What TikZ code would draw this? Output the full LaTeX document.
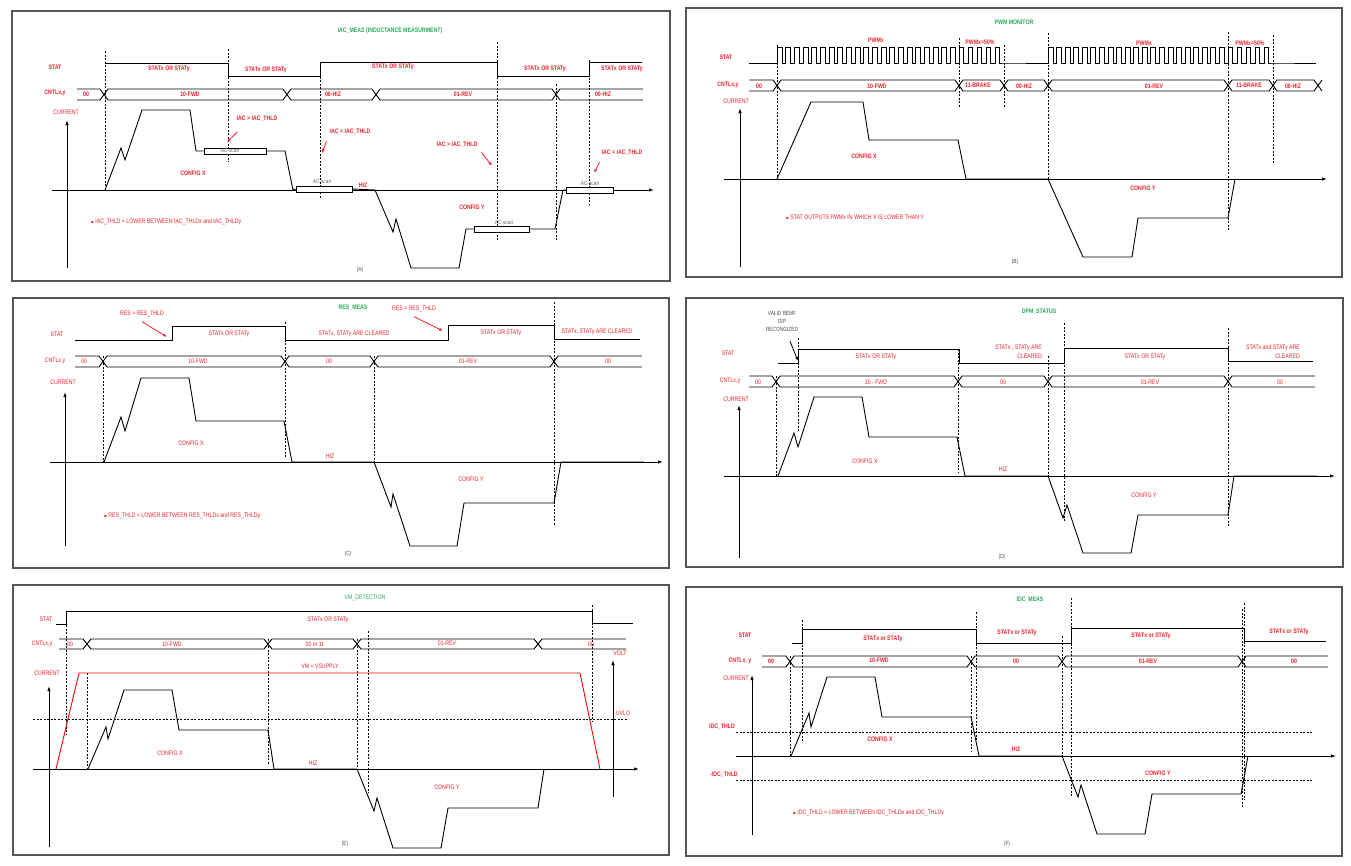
\documentclass[tikz,border=0pt]{standalone}
\usepackage{fontspec}
\setmainfont{Liberation Sans}[FakeStretch=0.8]
\newfontfamily\symfont{DejaVu Sans}
\usetikzlibrary{arrows.meta}
\definecolor{lblred}{RGB}{238,32,40}
\definecolor{ttlgreen}{RGB}{40,170,90}
\definecolor{framegray}{RGB}{85,85,85}

\begin{document}
\begin{tikzpicture}[x=1pt,y=-1pt,
                lbl/.style={text=lblred,font=\fontsize{6.5}{9}\selectfont\bfseries,inner sep=0pt},
                lbln/.style={text=lblred,font=\fontsize{6.5}{9}\selectfont,inner sep=0pt},
                ttl/.style={text=ttlgreen,font=\fontsize{6.5}{8}\selectfont\bfseries,inner sep=0pt},
                capt/.style={text=black!70,font=\fontsize{6}{7}\selectfont,inner sep=0pt},
                scantxt/.style={text=black!60,font=\fontsize{6}{7}\selectfont,inner sep=0pt},
                scanbox/.style={draw,line width=0.8pt,fill=white,minimum height=6pt,inner sep=0pt},
                frame/.style={draw=framegray,line width=1.2pt},
                sig/.style={line width=0.9pt},
                guide/.style={dash pattern=on 2pt off 1.5pt,line width=0.6pt},
                axis/.style={line width=0.9pt,-{Latex[length=5pt,width=3.5pt]}},
                redarrow/.style={draw=lblred,line width=0.8pt,-{Latex[length=4pt,width=3pt]}}]

\useasboundingbox (0,0) rectangle (1351,865);

% A
\draw[frame] (12,11) rectangle (670,281);
\node[ttl] (TTLA) at (390,31) {IAC\_MEAS (INDUCTANCE MEASURMENT)};
\node[lbl] (STATA) at (55,67) {STAT};
\node[lbl] (CNTLA) at (55,93) {CNTLx,y};
\node[lbln] (CURA) at (66,112) {CURRENT};

\draw[guide] (105,51) -- (105,190);
\draw[guide] (228,49) -- (228,162);
\draw[guide] (320,73) -- (320,198);
\draw[guide] (497,42) -- (497,240);
\draw[guide] (556,84) -- (556,241);
\draw[guide] (589,60) -- (589,204);

\draw[sig] (105,63) -- (228,63) -- (228,76) -- (320,76) -- (320,62) -- (497,62) -- (497,76) -- (589,76) -- (589,62) -- (642,62);
\node[lbl] (SA1) at (169,69) {STATx OR STATy};
\node[lbl] (SA2) at (266,70) {STATx OR STATy};
\node[lbl] (SA3) at (393,67) {STATx OR STATy};
\node[lbl] (SA4) at (545,69) {STATx OR STATy};
\node[lbl] (SA5) at (622,69) {STATx OR STATy};

\draw[sig] (77,89) -- (100,89) -- (108,100) -- (283,100) -- (291,89) -- (372,89) -- (380,100) -- (552,100) -- (560,89) -- (643,89);
\draw[sig] (77,100) -- (100,100) -- (108,89) -- (283,89) -- (291,100) -- (372,100) -- (380,89) -- (552,89) -- (560,100) -- (643,100);
\node[lbl] (CA1) at (86,94) {00};
\node[lbl] (CA2) at (190,94) {10-FWD};
\node[lbl] (CA3) at (333,94) {00-HIZ};
\node[lbl] (CA4) at (463,94) {01-REV};
\node[lbl] (CA5) at (603,94) {00-HIZ};

\draw[axis] (67,268) -- (67,120);
\draw[axis] (52,190) -- (654,190);

\node[scanbox,minimum width=62pt] (SCANA1) at (235,151) {};
\node[scanbox,minimum width=56pt] (SCANA2) at (324,189) {};
\node[scanbox,minimum width=55pt] (SCANA3) at (502,229) {};
\node[scanbox,minimum width=47pt] (SCANA4) at (590,190) {};
\node[scantxt] (SCTA1) at (230,150) {AC-scan};
\node[scantxt] (SCTA2) at (322,181) {AC-scan};
\node[scantxt] (SCTA3) at (504,222) {AC-scan};
\node[scantxt] (SCTA4) at (590,183) {AC-scan};

\draw[sig] (105,190) -- (121,148) -- (125,160) -- (142,110) -- (190,110) -- (196,151) -- (SCANA1.west);
\draw[sig] (SCANA1.east) -- (285,151) -- (293,190) -- (SCANA2.west);
\draw[sig] (SCANA2.east) -- (375,190) -- (393,232) -- (396,219) -- (411,268) -- (459,268) -- (466,229) -- (SCANA3.west);
\draw[sig] (SCANA3.east) -- (555,229) -- (563,190) -- (SCANA4.west);

\node[lbl] (THA1) at (257,119) {IAC > IAC\_THLD};
\node[lbl] (THA2) at (350,132) {IAC < IAC\_THLD};
\node[lbl] (THA3) at (457,145) {IAC > IAC\_THLD};
\node[lbl] (THA4) at (622,153) {IAC < IAC\_THLD};
\coordinate (TIPA1) at (227,142);
\coordinate (TIPA2) at (322,153);
\coordinate (TIPA3) at (492,166);
\coordinate (TIPA4) at (594,173);
\draw[redarrow] ([xshift=1pt,yshift=-10pt]THA1.south west) -- (TIPA1);
\draw[redarrow] ([xshift=-3pt,yshift=-6.5pt]THA2.south west) -- (TIPA2);
\draw[redarrow] ([xshift=4pt,yshift=-4.5pt]THA3.south east) -- (TIPA3);
\draw[redarrow] ([xshift=-2pt,yshift=-6.5pt]THA4.south west) -- (TIPA4);

\node[lbl] (HIZA) at (363,185) {HIZ};
\node[lbl] (CFXA) at (193,173) {CONFIG X};
\node[lbl] (CFYA) at (472,207) {CONFIG Y};
\node[lbln,anchor=west] (NOTEA) at (91,222) {{\symfont\fontsize{4}{4}\selectfont ▪} IAC\_THLD = LOWER BETWEEN IAC\_THLDx and IAC\_THLDy};
\node[capt] (CAPA) at (360,270) {(A)};

% B
\draw[frame] (686,8) rectangle (1342,277);
\node[ttl] (TTLB) at (1014,22) {PWM MONITOR};
\node[lbl] (STATB) at (726,57) {STAT};
\node[lbl] (CNTLB) at (728,85) {CNTLx,y};
\node[lbln] (CURB) at (736,101) {CURRENT};

\draw[guide] (777,45) -- (777,180);
\draw[guide] (959,38) -- (959,107);
\draw[guide] (1004,45) -- (1004,107);
\draw[guide] (1048,33) -- (1048,179);
\draw[guide] (1228,32) -- (1228,230);
\draw[guide] (1273,35) -- (1273,164);

\draw[sig] (749,63) -- (777,63)
  \foreach \i in {1,...,21}{ -- ++(0,-16) -- ++(5,0) -- ++(0,16) -- ++(3.67,0)}
  \foreach \i in {1,...,5}{ -- ++(0,-16) -- ++(4.5,0) -- ++(0,16) -- ++(4.5,0)}
  -- (1048,63)
  \foreach \i in {1,...,21}{ -- ++(0,-16) -- ++(5,0) -- ++(0,16) -- ++(3.57,0)}
  \foreach \i in {1,...,5}{ -- ++(0,-16) -- ++(4.5,0) -- ++(0,16) -- ++(4.5,0)}
  -- (1316,63);
\node[lbl] (PWB1) at (876,40) {PWMx};
\node[lbl] (PWB2) at (980,42) {PWMx=50\%};
\node[lbl] (PWB3) at (1144,43) {PWMx};
\node[lbl] (PWB4) at (1250,43) {PWMx=50\%};

\draw[sig] (749,80) -- (773,80) -- (781,91) -- (955,91) -- (963,80) -- (1000,80) -- (1008,91) -- (1044,91) -- (1052,80) -- (1224,80) -- (1232,91) -- (1269,91) -- (1277,80) -- (1314,80) -- (1322,91);
\draw[sig] (749,91) -- (773,91) -- (781,80) -- (955,80) -- (963,91) -- (1000,91) -- (1008,80) -- (1044,80) -- (1052,91) -- (1224,91) -- (1232,80) -- (1269,80) -- (1277,91) -- (1314,91) -- (1322,80);
\node[lbl] (CB1) at (759,86) {00};
\node[lbl] (CB2) at (877,86) {10-FWD};
\node[lbl] (CB3) at (978,85) {11-BRAKE};
\node[lbl] (CB4) at (1024,86) {00-HIZ};
\node[lbl] (CB5) at (1154,86) {01-REV};
\node[lbl] (CB6) at (1249,85) {11-BRAKE};
\node[lbl] (CB7) at (1293,86) {00-HIZ};

\draw[axis] (740,267) -- (740,108);
\draw[axis] (724,179) -- (1327,179);
\draw[sig] (777,179) -- (811,102) -- (863,102) -- (869,140) -- (958,140) -- (966,179) -- (1048,179) -- (1083,257) -- (1132,257) -- (1138,218) -- (1228,218) -- (1235,179);

\node[lbl] (CFXB) at (864,156) {CONFIG X};
\node[lbl] (CFYB) at (1143,188) {CONFIG Y};
\node[lbln,anchor=west] (NOTEB) at (786,217) {{\symfont\fontsize{4}{4}\selectfont ▪} STAT OUTPUTS PWMx IN WHICH X IS LOWER THAN Y};
\node[capt] (CAPB) at (1015,262) {(B)};

% C
\draw[frame] (13,298) rectangle (669,568);
\node[ttl] (TTLC) at (353,308) {RES\_MEAS};
\node[lbln] (STATC) at (57,334) {STAT};
\node[lbln] (CNTLC) at (55,361) {CNTLx,y};
\node[lbln] (CURC) at (63,382) {CURRENT};

\draw[guide] (103,356) -- (103,462);
\draw[guide] (285,322) -- (285,458);
\draw[guide] (374,356) -- (374,462);
\draw[guide] (554,302) -- (554,525);

\draw[sig] (75,340) -- (172,340) -- (172,326) -- (285,326) -- (285,340) -- (448,340) -- (448,325) -- (554,325) -- (554,339) -- (640,339);
\node[lbln] (SC1) at (229,334) {STATx OR STATy};
\node[lbln] (SC2) at (354,334) {STATx, STATy ARE CLEARED};
\node[lbln] (SC3) at (501,333) {STATx OR STATy};
\node[lbln] (SC4) at (597,332) {STATx, STATy ARE CLEARED};

\node[lbln] (THC1) at (142,314) {RES > RES\_THLD};
\node[lbln] (THC2) at (414,309) {RES > RES\_THLD};
\coordinate (TIPC1) at (167,337);
\coordinate (TIPC2) at (443,331);
\draw[redarrow] ([yshift=-4.5pt]THC1.south) -- (TIPC1);
\draw[redarrow] ([yshift=-4.5pt]THC2.south) -- (TIPC2);

\draw[sig] (75,356) -- (99,356) -- (107,367) -- (281,367) -- (289,356) -- (370,356) -- (378,367) -- (550,367) -- (558,356) -- (642,356);
\draw[sig] (75,367) -- (99,367) -- (107,356) -- (281,356) -- (289,367) -- (370,367) -- (378,356) -- (550,356) -- (558,367) -- (642,367);
\node[lbln] (CC1) at (84,361) {00};
\node[lbln] (CC2) at (198,361) {10-FWD};
\node[lbln] (CC3) at (329,361) {00};
\node[lbln] (CC4) at (468,361) {01-REV};
\node[lbln] (CC5) at (608,361) {00};

\draw[axis] (65,546) -- (65,392);
\draw[axis] (50,462) -- (663,462);
\draw[sig] (104,462) -- (121,417) -- (125,431) -- (141,378) -- (189,378) -- (196,421) -- (284,421) -- (292,462) -- (374,462) -- (391,507) -- (393,494) -- (410,546) -- (457,546) -- (464,503) -- (554,503) -- (561,462) -- (644,462);

\node[lbln] (HIZC) at (330,456) {HIZ};
\node[lbln] (CFXC) at (191,443) {CONFIG X};
\node[lbln] (CFYC) at (471,479) {CONFIG Y};
\node[lbln,anchor=west] (NOTEC) at (104,516) {{\symfont\fontsize{4}{4}\selectfont ▪} RES\_THLD = LOWER BETWEEN RES\_THLDx and RES\_THLDy};
\node[capt] (CAPC) at (348,554) {(C)};

% D
\draw[frame] (686,298) rectangle (1343,567);
\node[ttl] (TTLD) at (1039,312) {DPM\_STATUS};
\node[capt,align=center,font=\fontsize{6}{8}\selectfont] (BEMF) at (782,321) {VALID BEMF\\DIP\\RECONGIZED};
\coordinate (TIPD) at (798,361);
\draw[line width=0.8pt,-{Latex[length=4pt,width=3pt]}] ([xshift=8pt,yshift=-10pt]BEMF.south) -- (TIPD);
\node[lbln] (STATD) at (728,353) {STAT};
\node[lbln] (CNTLD) at (730,381) {CNTLx,y};
\node[lbln] (CURD) at (736,399) {CURRENT};

\draw[guide] (776,376) -- (776,476);
\draw[guide] (798,338) -- (798,432);
\draw[guide] (958,349) -- (958,472);
\draw[guide] (1048,356) -- (1048,476);
\draw[guide] (1064,323) -- (1064,521);
\draw[guide] (1228,328) -- (1228,527);

\draw[sig] (778,363) -- (798,363) -- (798,349) -- (959,349) -- (959,363) -- (1064,363) -- (1064,348) -- (1228,348) -- (1228,361) -- (1313,361);
\node[lbln] (SD1) at (876,357) {STATx OR STATy};
\node[lbln,align=right,anchor=east] (SD2) at (1042,352) {STATx , STATy ARE\\CLEARED};
\node[lbln] (SD3) at (1145,357) {STATx OR STATy};
\node[lbln,align=right,anchor=east] (SD4) at (1300,352) {STATx and STATy ARE\\CLEARED};

\draw[sig] (749,376) -- (772,376) -- (780,387) -- (954,387) -- (962,376) -- (1044,376) -- (1052,387) -- (1224,387) -- (1232,376) -- (1315,376);
\draw[sig] (749,387) -- (772,387) -- (780,376) -- (954,376) -- (962,387) -- (1044,387) -- (1052,376) -- (1224,376) -- (1232,387) -- (1315,387);
\node[lbln] (CD1) at (758,382) {00};
\node[lbln] (CD2) at (876,382) {10 - FWD};
\node[lbln] (CD3) at (1003,382) {00};
\node[lbln] (CD4) at (1150,382) {01-REV};
\node[lbln] (CD5) at (1280,382) {00};

\draw[axis] (739,558) -- (739,405);
\draw[axis] (724,476) -- (1335,476);
\draw[sig] (778,476) -- (794,433) -- (798,447) -- (814,397) -- (862,397) -- (869,437) -- (957,437) -- (965,476) -- (1048,476) -- (1063,518) -- (1067,505) -- (1083,553) -- (1131,553) -- (1138,515) -- (1228,515) -- (1234,476) -- (1317,476);

\node[lbln] (HIZD) at (1003,469) {HIZ};
\node[lbln] (CFXD) at (865,461) {CONFIG X};
\node[lbln] (CFYD) at (1144,495) {CONFIG Y};
\node[capt] (CAPD) at (1002,557) {(D)};

% E
\draw[frame] (13,585) rectangle (669,855);
\node[ttl,font=\fontsize{6.5}{8}\selectfont] (TTLE) at (365,598) {VM\_DETECTION};
\node[lbln] (STATE) at (46,619) {STAT};
\node[lbln] (CNTLE) at (42,644) {CNTLx,y};
\node[lbln] (CURE) at (47,673) {CURRENT};

\draw[guide] (33,719) -- (627,719);
\draw[guide] (66,611) -- (66,734);
\draw[guide] (87,673) -- (87,769);
\draw[guide] (268,639) -- (268,765);
\draw[guide] (357,639) -- (357,769);
\draw[guide] (368,631) -- (368,793);
\draw[guide] (592,605) -- (592,722);

\draw[sig] (56,624) -- (66,624) -- (66,611) -- (592,611) -- (592,623) -- (633,623);
\node[lbln] (SE1) at (328,620) {STATx OR STATy};

\draw[sig] (59,639) -- (83,639) -- (91,649) -- (264,649) -- (272,639) -- (353,639) -- (361,649) -- (534,649) -- (542,639) -- (626,639);
\draw[sig] (59,649) -- (83,649) -- (91,639) -- (264,639) -- (272,649) -- (353,649) -- (361,639) -- (534,639) -- (542,649) -- (626,649);
\node[lbln] (CE1) at (70,644) {00};
\node[lbln] (CE2) at (172,644) {10-FWD};
\node[lbln] (CE3) at (315,644) {00 or 11};
\node[lbln] (CE4) at (447,643) {01-REV};
\node[lbln] (CE5) at (591,644) {00};

\draw[axis] (49,847) -- (49,686);
\draw[axis] (33,769) -- (639,769);
\draw[axis] (613,797) -- (613,660);
\draw[sig] (88,769) -- (106,727) -- (108,739) -- (124,690) -- (172,690) -- (179,730) -- (268,730) -- (274,769) -- (357,769) -- (374,811) -- (377,798) -- (393,848) -- (441,848) -- (448,808) -- (538,808) -- (544,769);
\draw[sig,red] (56,769) -- (79,673) -- (580,673) -- (600,769);

\node[lbln] (VME) at (320,666) {VM = VSUPPLY};
\node[lbln] (UVLOE) at (623,713) {UVLO};
\node[lbln] (VOLTE) at (620,653) {VOLT};
\node[lbln] (HIZE) at (313,763) {HIZ};
\node[lbln] (CFXE) at (170,753) {CONFIG X};
\node[lbln] (CFYE) at (447,787) {CONFIG Y};
\node[capt] (CAPE) at (345,844) {(E)};

% F
\draw[frame] (686,587) rectangle (1342,856);
\node[ttl] (TTLF) at (1030,600) {IDC\_MEAS};
\node[lbl] (STATF) at (745,635) {STAT};
\node[lbl] (CNTLF) at (740,661) {CNTLx, y};
\node[lbln] (CURF) at (736,678) {CURRENT};
\node[lbl] (IDCF1) at (722,727) {IDC\_THLD};
\node[lbl] (IDCF2) at (724,775) {-IDC\_THLD};

\draw[guide] (736,732) -- (1312,732);
\draw[guide] (736,780) -- (1312,780);
\draw[guide] (790,656) -- (790,756);
\draw[guide] (802,620) -- (802,742);
\draw[guide] (971,656) -- (971,752);
\draw[guide] (976,612) -- (976,740);
\draw[guide] (1062,636) -- (1062,756);
\draw[guide] (1071,598) -- (1071,796);
\draw[guide] (1242,609) -- (1242,807);
\draw[guide] (1244,603) -- (1244,800);

\draw[sig] (792,643) -- (802,643) -- (802,629) -- (976,629) -- (976,643) -- (1071,643) -- (1071,628) -- (1244,628) -- (1244,641) -- (1326,641);
\node[lbl] (SF1) at (883,639) {STATx or STATy};
\node[lbl] (SF2) at (1017,633) {STATx or STATy};
\node[lbl] (SF3) at (1151,636) {STATx or STATy};
\node[lbl] (SF4) at (1289,632) {STATx or STATy};

\draw[sig] (762,656) -- (786,656) -- (794,667) -- (967,667) -- (975,656) -- (1058,656) -- (1066,667) -- (1238,667) -- (1246,656) -- (1328,656);
\draw[sig] (762,667) -- (786,667) -- (794,656) -- (967,656) -- (975,667) -- (1058,667) -- (1066,656) -- (1238,656) -- (1246,667) -- (1328,667);
\node[lbl] (CF1) at (771,661) {00};
\node[lbl] (CF2) at (879,660) {10-FWD};
\node[lbl] (CF3) at (1016,661) {00};
\node[lbl] (CF4) at (1148,661) {01-REV};
\node[lbl] (CF5) at (1294,661) {00};

\draw[axis] (752,835) -- (752,675);
\draw[axis] (736,756) -- (1336,756);
\draw[sig] (791,756) -- (809,713) -- (811,727) -- (827,677) -- (875,677) -- (882,717) -- (971,717) -- (979,756) -- (1062,756) -- (1078,797) -- (1081,785) -- (1097,834) -- (1145,834) -- (1152,794) -- (1241,794) -- (1248,756);

\node[lbl] (HIZF) at (1016,749) {HIZ};
\node[lbl] (CFXF) at (880,739) {CONFIG X};
\node[lbl] (CFYF) at (1158,773) {CONFIG Y};
\node[lbln,anchor=west] (NOTEF) at (793,813) {{\symfont\fontsize{4}{4}\selectfont ▪} IDC\_THLD = LOWER BETWEEN IDC\_THLDx and IDC\_THLDy};
\node[capt] (CAPF) at (1007,844) {(F)};

\end{tikzpicture}
\end{document}
